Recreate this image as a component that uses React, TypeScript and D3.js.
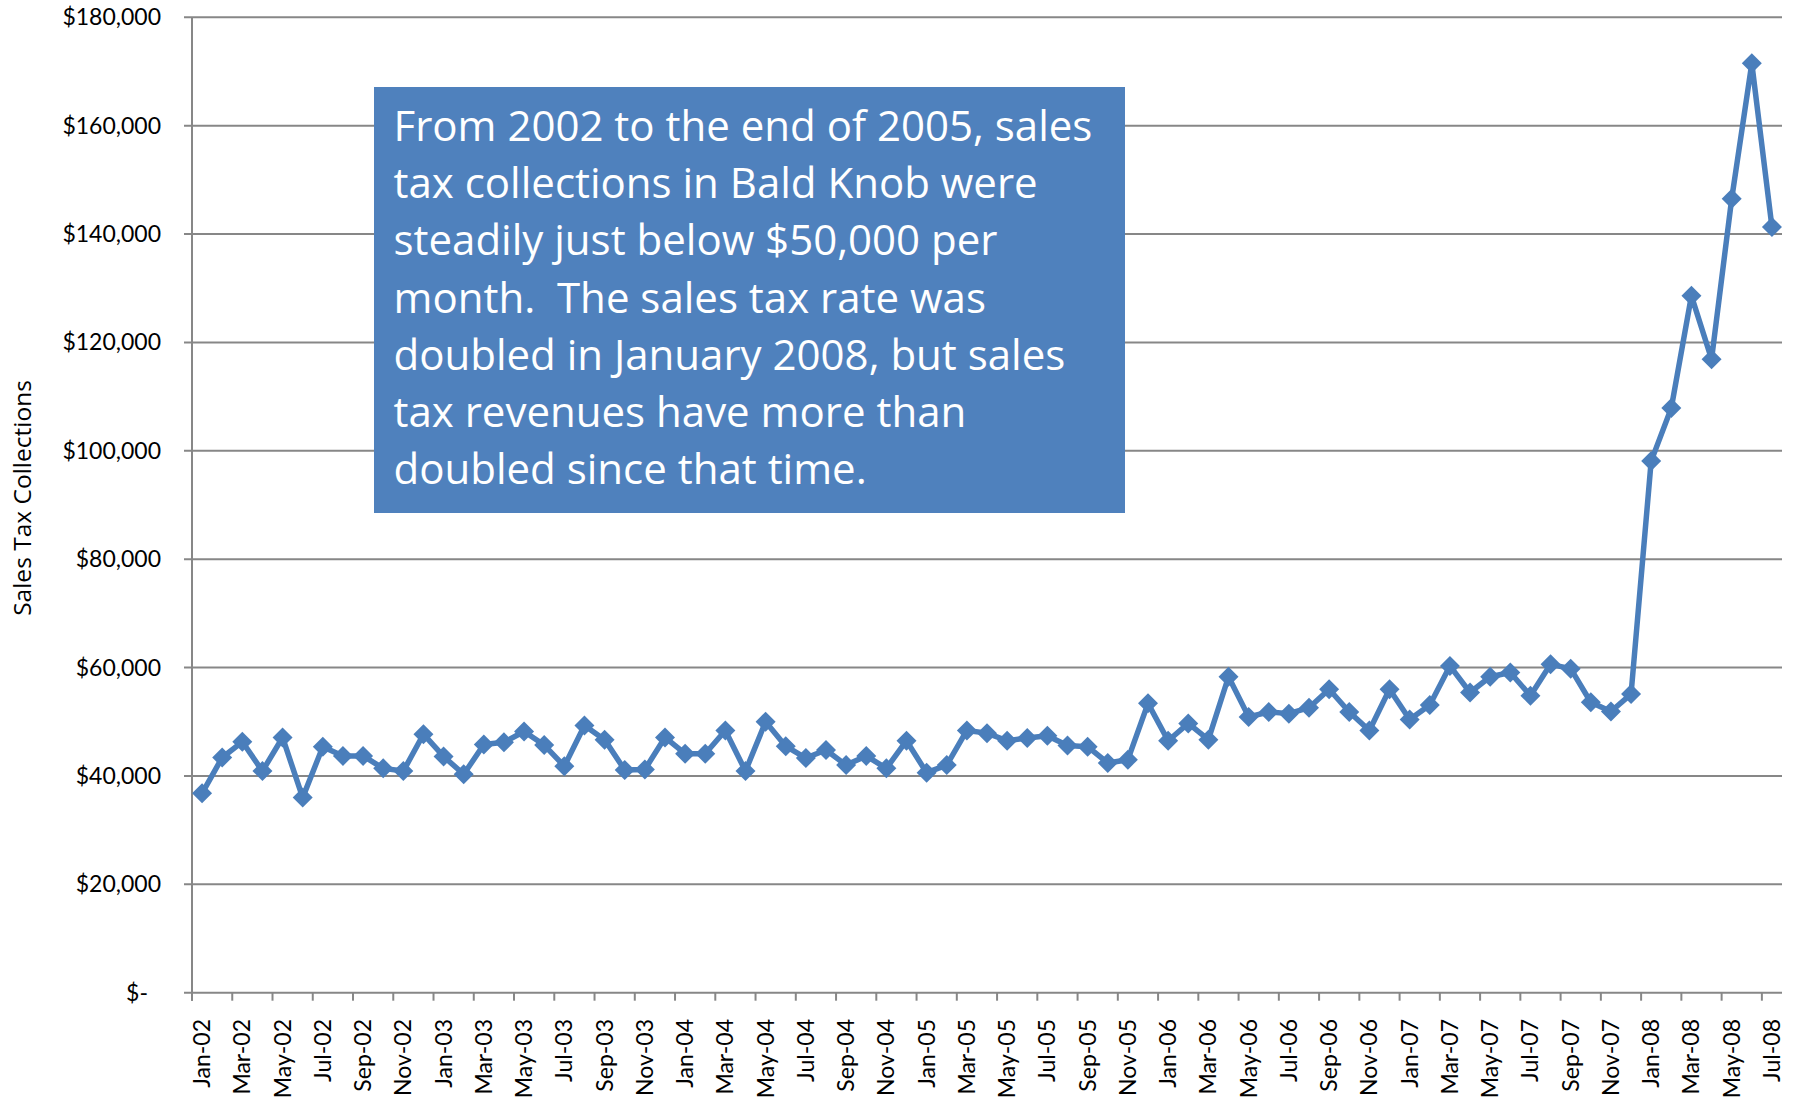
import React from "react";
import * as d3 from "d3";

const monthNames = ["Jan","Feb","Mar","Apr","May","Jun","Jul","Aug","Sep","Oct","Nov","Dec"];
const years = ["02","03","04","05","06","07","08"];
const months: string[] = [];
years.forEach((y) => monthNames.forEach((m) => months.push(`${m}-${y}`)));
const categories = months.slice(0, 79); // Jan-02 .. Jul-08

const collections = [
  36800, 43400, 46300, 40900, 47100, 36000, 45400, 43700, 43700, 41400, 40900, 47700,
  43600, 40300, 45800, 46200, 48200, 45700, 41800, 49300, 46700, 41100, 41200, 47100,
  44100, 44100, 48400, 40900, 50000, 45500, 43300, 44800, 42000, 43700, 41400, 46500,
  40600, 42000, 48400, 47900, 46500, 47000, 47400, 45600, 45400, 42400, 43000, 53400,
  46500, 49700, 46700, 58300, 50900, 51800, 51500, 52600, 56000, 51800, 48400, 56000,
  50400, 53100, 60300, 55400, 58300, 59100, 54800, 60600, 59800, 53600, 51900, 55100,
  98100, 107900, 128600, 116900, 146500, 171500, 141300,
];

const yTicks = [0, 20000, 40000, 60000, 80000, 100000, 120000, 140000, 160000, 180000];
const yTickLabel = (v: number) => (v === 0 ? "$-" : "$" + d3.format(",")(v));

const yTitle = "Sales Tax Collections";
const noteLines = [
  "From 2002 to the end of 2005, sales",
  "tax collections in Bald Knob were",
  "steadily just below $50,000 per",
  "month.  The sales tax rate was",
  "doubled in January 2008, but sales",
  "tax revenues have more than",
  "doubled since that time.",
];

const W = 1799;
const H = 1101;
const left = 192;
const right = 1782;
const top = 17.3;
const bottom = 992.7;
const FONT = "Lato, 'Open Sans', sans-serif";
const FONT2 = "'Open Sans', Lato, sans-serif";
const LINE = "#4A7EBB";
const GRID = "#878787";

export default function App() {
  const x = d3.scaleBand<string>().domain(categories).range([left, right]).padding(0);
  const y = d3.scaleLinear().domain([0, 180000]).range([bottom, top]);
  const cx = (c: string) => (x(c) as number) + x.bandwidth() / 2;

  const line = d3
    .line<number>()
    .x((_, i) => cx(categories[i]))
    .y((d) => y(d));
  const diamond = d3.symbol(d3.symbolSquare, 200)();

  return (
    <svg
      width={W}
      height={H}
      style={{ position: "absolute", left: 0, top: 0, display: "block", background: "#fff" }}
    >
      {/* gridlines */}
      {yTicks.map((t) => (
        <g key={t}>
          <line x1={left - 8} x2={right} y1={y(t)} y2={y(t)} stroke={GRID} strokeWidth={2} />
          <text
            x={t === 0 ? left - 44 : left - 31}
            y={y(t)}
            dy="0.35em"
            textAnchor="end"
            fontFamily={FONT}
            fontSize={23}
            fill="#000"
          >
            {yTickLabel(t)}
          </text>
        </g>
      ))}
      {/* y axis */}
      <line x1={left} x2={left} y1={top} y2={bottom + 8} stroke={GRID} strokeWidth={2} />
      {/* x ticks and labels */}
      {categories.map((c, i) =>
        i % 2 === 0 ? (
          <g key={c}>
            <line x1={x(c)} x2={x(c)} y1={bottom} y2={bottom + 8} stroke={GRID} strokeWidth={2} />
            <text
              transform={`translate(${cx(c)},${1019}) rotate(-90)`}
              textAnchor="end"
              dy="0.35em"
              fontFamily={FONT}
              fontSize={23}
              fill="#000"
            >
              {c}
            </text>
          </g>
        ) : null
      )}
      {/* y title */}
      <text
        transform={`translate(${22},${498}) rotate(-90)`}
        textAnchor="middle"
        dy="0.35em"
        fontFamily={FONT2}
        fontSize={24.5}
        fill="#000"
      >
        {yTitle}
      </text>
      {/* series */}
      <path d={line(collections) || ""} fill="none" stroke={LINE} strokeWidth={5.5} strokeLinejoin="round" />
      {collections.map((v, i) => (
        <path
          key={i}
          d={diamond || ""}
          transform={`translate(${cx(categories[i])},${y(v)}) rotate(45)`}
          fill={LINE}
          stroke="none"
        />
      ))}
      {/* annotation box */}
      <rect x={374} y={87} width={751} height={426} fill="#4F81BD" />
      {noteLines.map((t, i) => (
        <text
          key={i}
          x={393.5}
          y={141 + i * 57.2}
          fontFamily={FONT2}
          fontSize={42}
          fill="#fff"
          style={{ whiteSpace: "pre" }}
        >
          {t}
        </text>
      ))}
    </svg>
  );
}
